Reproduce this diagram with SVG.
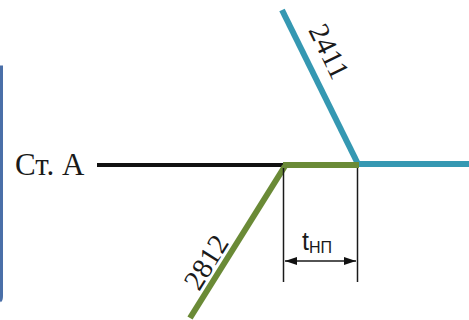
<svg xmlns="http://www.w3.org/2000/svg" width="469" height="320" viewBox="0 0 469 320">
  <style>
    .lbl { font-family: "Liberation Serif", "Times New Roman", serif; fill: #1a1a1a; }
    .blue { stroke: #3598b2; stroke-width: 6; fill: none; }
    .green { stroke: #6a8a36; stroke-width: 6; fill: none; }
    .dim { stroke: #1a1a1a; stroke-width: 1.5; fill: none; }
  </style>
  <defs>
    <marker id="arr" viewBox="0 0 12 8" refX="12" refY="4" markerWidth="12" markerHeight="8" markerUnits="userSpaceOnUse" orient="auto-start-reverse">
      <path d="M0,0 L12,4 L0,8 Z" fill="#111"/>
    </marker>
  </defs>
  <rect width="469" height="320" fill="#ffffff"/>
  <g id="frame">
    <path d="M0,67 L1.5,67 L1.5,296 Q1.5,300 0,301" stroke="#4a6fa8" stroke-width="3" fill="none"/>
  </g>
  <g id="station-a">
    <text class="lbl" x="15" y="175" font-size="31">Ст. А</text>
  </g>
  <g id="connectors">
    <line x1="97" y1="165" x2="286" y2="165" stroke="#111" stroke-width="4"/>
    <line class="blue" x1="282" y1="10" x2="358" y2="164"/>
    <line class="blue" x1="356" y1="164" x2="469" y2="164"/>
    <line class="green" x1="283" y1="165" x2="359" y2="165"/>
    <line class="green" x1="285" y1="166" x2="190" y2="318"/>
  </g>
  <g id="label-2411">
    <text class="lbl" font-size="29" transform="translate(308,30) rotate(64)">2411</text>
  </g>
  <g id="label-2812">
    <text class="lbl" font-size="29" transform="translate(199,292) rotate(-58)">2812</text>
  </g>
  <g id="dimension">
    <line class="dim" x1="283.5" y1="168" x2="283.5" y2="282"/>
    <line class="dim" x1="357.5" y1="168" x2="357.5" y2="282"/>
    <line class="dim" x1="285" y1="261" x2="356" y2="261" marker-start="url(#arr)" marker-end="url(#arr)"/>
    <text font-family="Liberation Sans, Arial, sans-serif" fill="#1a1a1a" x="302" y="250" font-size="25">t<tspan font-size="16" dy="3">НП</tspan></text>
  </g>
</svg>
